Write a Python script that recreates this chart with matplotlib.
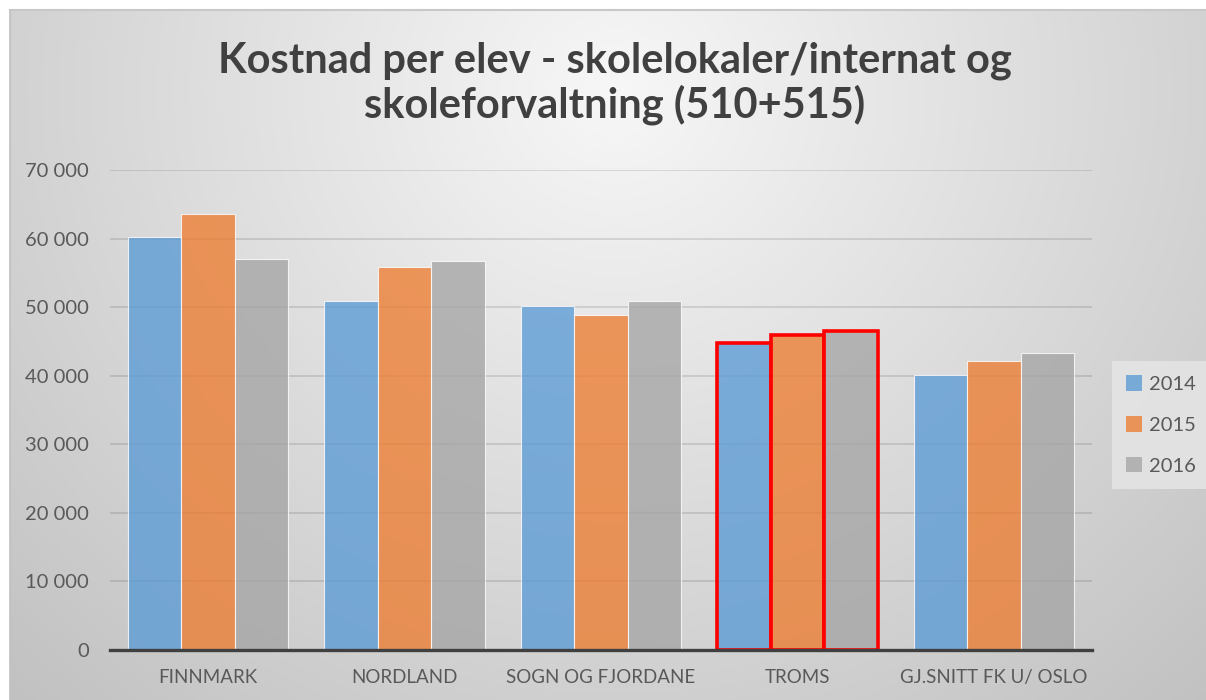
import numpy as np
import matplotlib
matplotlib.use("Agg")
import matplotlib.pyplot as plt
from matplotlib.patches import Patch
from matplotlib.ticker import FuncFormatter

categories = ["FINNMARK", "NORDLAND", "SOGN OG FJORDANE", "TROMS", "GJ.SNITT FK U/ OSLO"]
years = ["2014", "2015", "2016"]
v2014 = [60250, 50950, 50150, 44750, 40050]
v2015 = [63550, 55850, 48800, 45900, 42200]
v2016 = [57000, 56700, 50950, 46500, 43350]
highlight = "TROMS"

colors = ["#5B9BD5", "#ED7D31", "#A5A5A5"]
txt = "#595959"
plt.rcParams["font.family"] = ["Lato", "DejaVu Sans"]

W, H = 1206, 700
fig = plt.figure(figsize=(W / 100, H / 100), dpi=100)
fig.patch.set_facecolor("white")

# gradient background of the chart frame
bg = fig.add_axes([10 / W, 0, 1 - 10 / W, 1 - 10 / H])
yy, xx = np.mgrid[10:H, 10:W]
d = np.sqrt(((xx - 615) / 720.0) ** 2 + ((yy - 90) / 680.0) ** 2)
g = np.clip(247 - 44 * d, 0, 255) / 255.0
bg.imshow(np.dstack([g, g, g]), aspect="auto", extent=[0, 1, 0, 1], origin="upper")
bg.set_axis_off()
fig.add_artist(plt.Line2D([10 / W, 1], [1 - 10 / H, 1 - 10 / H], color="#c8c8c8", lw=1.5))
fig.add_artist(plt.Line2D([10 / W, 10 / W], [0, 1 - 10 / H], color="#c0c0c0", lw=1.2))

ax = fig.add_axes([110 / W, 1 - 650 / H, 982 / W, 480 / H])
ax.patch.set_alpha(0)
x = np.arange(len(categories))
bw = 0.272
series = [v2014, v2015, v2016]
for i, vals in enumerate(series):
    bars = ax.bar(x + (i - 1) * bw, vals, bw, color=colors[i], alpha=0.78,
                  edgecolor=(1, 1, 1, 0.6), linewidth=0.8, zorder=2)
    for c, b in zip(categories, bars):
        if c == highlight:
            b.set_alpha(None)
            b.set_facecolor(matplotlib.colors.to_rgba(colors[i], 0.78))
            b.set_edgecolor("#ff0000")
            b.set_linewidth(2.6)
            b.set_zorder(3)

ax.set_xlim(-0.5, len(categories) - 0.5)
ax.set_ylim(0, 70000)
ax.set_yticks(range(0, 70001, 10000))
ax.yaxis.set_major_formatter(FuncFormatter(lambda v, p: f"{int(v):,}".replace(",", " ")))
ax.grid(axis="y", color="black", alpha=0.12, lw=1.3, zorder=0)
ax.set_axisbelow(True)
for s in ["top", "right", "left"]:
    ax.spines[s].set_visible(False)
ax.spines["bottom"].set_color("#404040")
ax.spines["bottom"].set_linewidth(2.4)
ax.spines["bottom"].set_zorder(4)
ax.set_xticks(x)
ax.set_xticklabels(categories)
ax.tick_params(axis="x", length=0, pad=14, labelsize=13.5, labelcolor=txt)
ax.tick_params(axis="y", length=0, pad=15, labelsize=14.5, labelcolor=txt)

fig.text(615 / W, 1 - 61 / H, "Kostnad per elev - skolelokaler/internat og",
         ha="center", va="center", fontsize=30, fontweight="bold", color="#404040")
fig.text(615 / W, 1 - 105 / H, "skoleforvaltning (510+515)",
         ha="center", va="center", fontsize=30, fontweight="bold", color="#404040")

handles = [Patch(facecolor=colors[i], alpha=0.78, edgecolor="none") for i in range(3)]
leg = fig.legend(handles, years, loc="center", bbox_to_anchor=(1161 / W, 1 - 425 / H),
                 frameon=True, fontsize=14.5, labelcolor=txt, handlelength=0.8,
                 handleheight=0.8, handletextpad=0.35, labelspacing=1.15,
                 borderpad=0.7, borderaxespad=0, fancybox=False)
leg.get_frame().set_facecolor("#e4e4e4")
leg.get_frame().set_edgecolor("none")
leg.get_frame().set_alpha(0.9)

fig.savefig("out.png", dpi=100)
